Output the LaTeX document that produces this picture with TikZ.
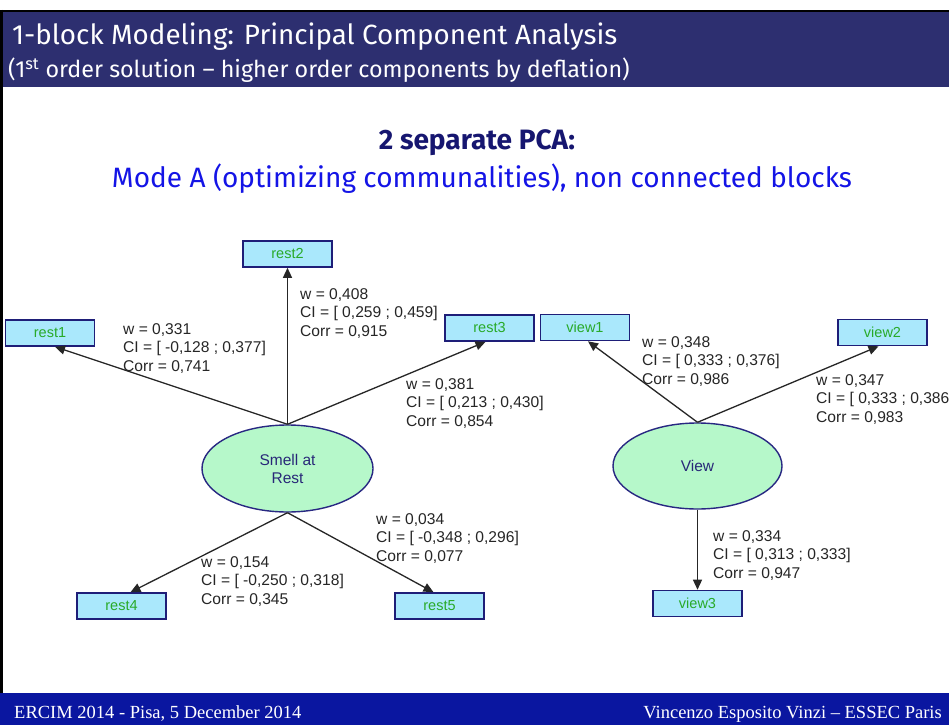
\documentclass[tikz,border=0pt]{standalone}
\usepackage{fontspec}
\setmainfont{Liberation Sans}
\newfontfamily\titlefont{Fira Sans}
\newfontfamily\footfont{Liberation Serif}
\usetikzlibrary{arrows.meta,shapes.geometric}

\definecolor{headnavy}{RGB}{45,47,112}
\definecolor{footblue}{RGB}{10,22,160}
\definecolor{headdark}{RGB}{22,22,112}
\definecolor{subblue}{RGB}{20,20,230}
\definecolor{boxfill}{RGB}{170,232,252}
\definecolor{boxline}{RGB}{30,30,120}
\definecolor{boxtext}{RGB}{40,170,40}
\definecolor{lvfill}{RGB}{182,248,202}
\definecolor{lvline}{RGB}{40,40,130}
\definecolor{lvtext}{RGB}{40,40,120}

\tikzset{
  mv/.style={draw=boxline, line width=1.6bp, fill=boxfill, text=boxtext,
    minimum width=89bp, minimum height=26bp, inner sep=0pt,
    font=\fontsize{14.5bp}{16bp}\selectfont},
  lv/.style={ellipse, draw=lvline, line width=1.4bp, fill=lvfill, text=lvtext,
    minimum width=171bp, minimum height=87bp, inner sep=0pt, align=center,
    font=\fontsize{15.5bp}{18bp}\selectfont},
  stat/.style={anchor=north west, inner sep=0pt, align=left, text=black!85,
    font=\fontsize{15.6bp}{18.8bp}\selectfont},
  link/.style={-{Triangle[length=10bp,width=9bp]}, line width=1.3bp, draw=black!85},
}

\begin{document}
\begin{tikzpicture}[x=1bp,y=-1bp]
\useasboundingbox (0,0) rectangle (949,725);
\clip (0,0) rectangle (949,725);

% slide frame and bands
\fill[white] (0,0) rectangle (949,725);
\fill[headnavy] (0,11) rectangle (949,87);
\draw[black, line width=2.5bp] (1.25,10) -- (1.25,693);
\draw[black, line width=2.5bp] (0,11) -- (949,11);
\fill[footblue] (0,693) rectangle (949,725);

% header
\node[anchor=base west, inner sep=0pt, text=white, font=\titlefont\fontsize{27.8bp}{30bp}\selectfont]
  (title) at (12,45) {1-block Modeling: Principal Component Analysis};
\node[anchor=base west, inner sep=0pt, text=white, font=\titlefont\fontsize{23.3bp}{26bp}\selectfont]
  (subtitle) at (8,78) {(1\textsuperscript{st} order solution – higher order components by deflation)};

% headings
\node[anchor=base, inner sep=0pt, text=headdark, font=\titlefont\bfseries\fontsize{28bp}{30bp}\selectfont]
  (head) at (477,150) {2 separate PCA:};
\node[anchor=base, inner sep=0pt, text=subblue, font=\titlefont\fontsize{28bp}{32bp}\selectfont]
  (sub) at (482,188) {Mode A (optimizing communalities), non connected blocks};

% first block: Smell at Rest
\node[lv] (smell) at (287.5,468.5) {Smell at\\Rest};
\node[mv] (rest1) at (50,333) {rest1};
\node[mv] (rest2) at (287.5,254) {rest2};
\node[mv] (rest3) at (489.5,328) {rest3};
\node[mv] (rest4) at (121.5,606) {rest4};
\node[mv] (rest5) at (439.5,606) {rest5};

\draw[link] (smell.north) -- ([xshift=5bp]rest1.south);
\draw[link] (smell.north) -- (rest2.south);
\draw[link] (smell.north) -- ([xshift=-4bp]rest3.south);
\draw[link] (smell.south) -- ([xshift=9bp]rest4.north);
\draw[link] (smell.south) -- ([xshift=-6bp]rest5.north);

\node[stat] (s1) at (123,323) {w = 0,331\\CI = [ -0,128 ; 0,377]\\Corr = 0,741};
\node[stat] (s2) at (300,288) {w = 0,408\\CI = [ 0,259 ; 0,459]\\Corr = 0,915};
\node[stat] (s3) at (406,378) {w = 0,381\\CI = [ 0,213 ; 0,430]\\Corr = 0,854};
\node[stat] (s4) at (201,556) {w = 0,154\\CI = [ -0,250 ; 0,318]\\Corr = 0,345};
\node[stat] (s5) at (376,513) {w = 0,034\\CI = [ -0,348 ; 0,296]\\Corr = 0,077};

% second block: View
\node[lv, minimum width=169bp, minimum height=86bp] (view) at (697.5,466) {View};
\node[mv] (view1) at (585,327.5) {view1};
\node[mv] (view2) at (882.5,332.5) {view2};
\node[mv] (view3) at (697.5,603.5) {view3};

\draw[link] (view.north) -- ([xshift=3bp]view1.south);
\draw[link] (view.north) -- ([xshift=-4bp]view2.south);
\draw[link] (view.south) -- (view3.north);

\node[stat] (v1) at (642,336) {w = 0,348\\CI = [ 0,333 ; 0,376]\\Corr = 0,986};
\node[stat] (v2) at (816,374) {w = 0,347\\CI = [ 0,333 ; 0,386]\\Corr = 0,983};
\node[stat] (v3) at (713,530) {w = 0,334\\CI = [ 0,313 ; 0,333]\\Corr = 0,947};

% footer
\node[anchor=base west, inner sep=0pt, text=white, font=\footfont\fontsize{18.5bp}{20bp}\selectfont]
  (foot1) at (14,718) {ERCIM 2014 - Pisa, 5 December 2014};
\node[anchor=base east, inner sep=0pt, text=white, font=\footfont\fontsize{18.5bp}{20bp}\selectfont]
  (foot2) at (942,718) {Vincenzo Esposito Vinzi – ESSEC Paris};
\end{tikzpicture}
\end{document}
